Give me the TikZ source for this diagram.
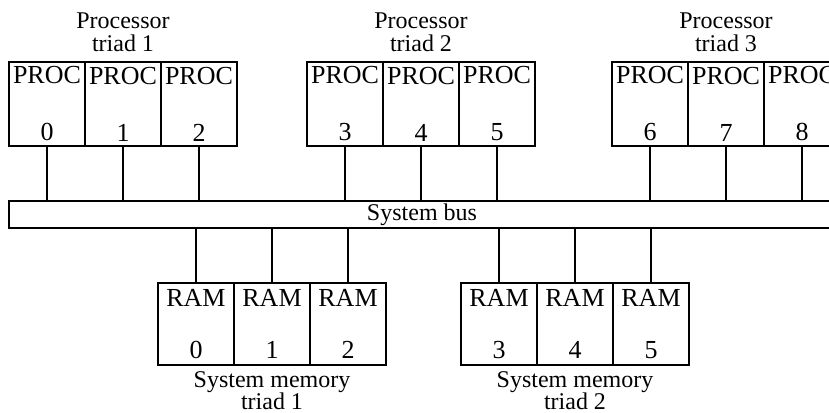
\documentclass[tikz,border=0pt]{standalone}
\usepackage{fontspec}
\setmainfont{Liberation Serif}
\usetikzlibrary{positioning}

\begin{document}
\begin{tikzpicture}[
    x=0.5pt, y=-0.5pt,
    node distance=0pt,
    cell/.style={draw, line width=0.9pt, outer sep=0pt, inner sep=0pt, minimum width=38pt, align=center},
    procbox/.style={cell, minimum height=42pt, font=\fontsize{13}{28.5}\selectfont},
    rambox/.style={cell, minimum height=41pt, font=\fontsize{13}{26}\selectfont},
    bus/.style={draw, line width=0.9pt, outer sep=0pt, inner sep=0pt, minimum width=413pt, minimum height=13.5pt, font=\fontsize{12}{14}\selectfont},
    caption/.style={inner sep=0pt, align=center, font=\fontsize{12}{11.5}\selectfont},
    stem/.style={line width=0.9pt},
]

\useasboundingbox (0,0) rectangle (829,412);
\clip (0,0) rectangle (829,412);

% processor triads
\node[procbox, anchor=north west] (p0) at (9,62) {PROC\\0};
\node[procbox, right=of p0] (p1) {PROC\\1};
\node[procbox, right=of p1] (p2) {PROC\\2};
\node[procbox, anchor=north west] (p3) at (307,62) {PROC\\3};
\node[procbox, right=of p3] (p4) {PROC\\4};
\node[procbox, right=of p4] (p5) {PROC\\5};
\node[procbox, anchor=north west] (p6) at (612,62) {PROC\\6};
\node[procbox, right=of p6] (p7) {PROC\\7};
\node[procbox, right=of p7] (p8) {PROC\\8};

\node[caption, above=5pt of p1] (pt1) {Processor\\triad 1};
\node[caption, above=5pt of p4] (pt2) {Processor\\triad 2};
\node[caption, above=5pt of p7] (pt3) {Processor\\triad 3};

% bus
\node[bus, anchor=north west] (bus) at (9,201) {System bus};

% memory triads
\node[rambox, anchor=north west] (r0) at (158,283) {RAM\\0};
\node[rambox, right=of r0] (r1) {RAM\\1};
\node[rambox, right=of r1] (r2) {RAM\\2};
\node[rambox, anchor=north west] (r3) at (461,283) {RAM\\3};
\node[rambox, right=of r3] (r4) {RAM\\4};
\node[rambox, right=of r4] (r5) {RAM\\5};

\node[caption, below=3pt of r1, font=\fontsize{12}{11}\selectfont] (mt1) {System memory\\triad 1};
\node[caption, below=3pt of r4, font=\fontsize{12}{11}\selectfont] (mt2) {System memory\\triad 2};

\foreach \c in {p0,p1,p2,p3,p4,p5,p6,p7,p8} {
    \draw[stem] (\c.south) -- (\c.south |- bus.north);
}
\foreach \c in {r0,r1,r2,r3,r4,r5} {
    \draw[stem] (\c.north) -- (\c.north |- bus.south);
}

\end{tikzpicture}
\end{document}
